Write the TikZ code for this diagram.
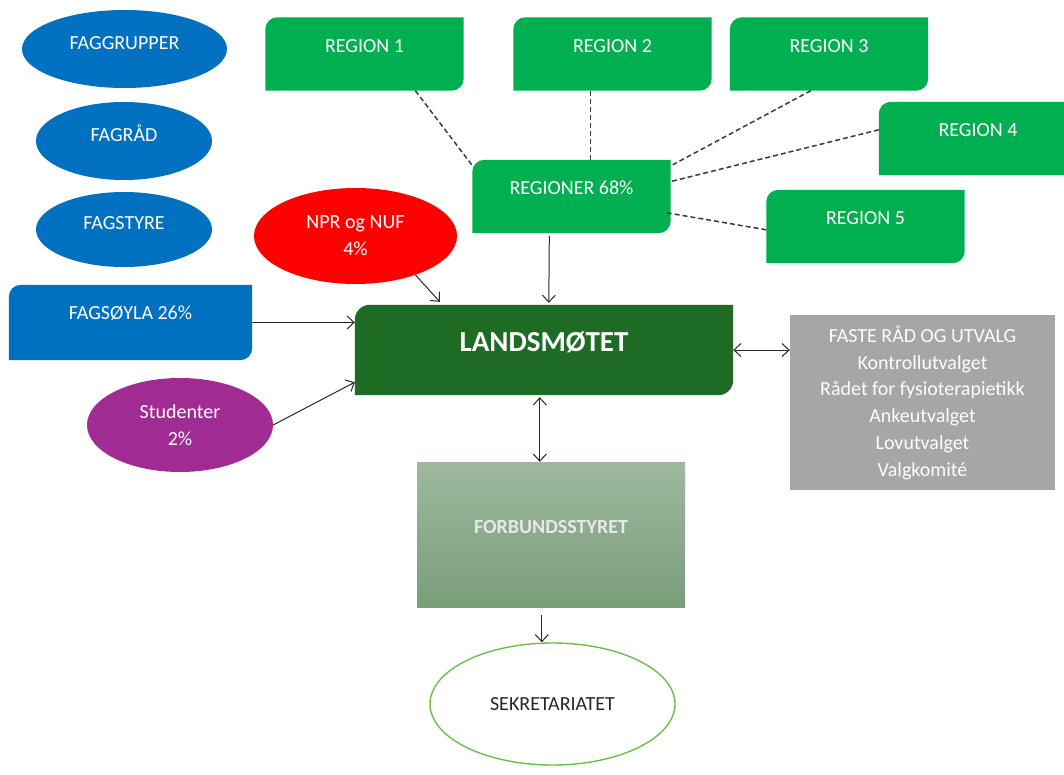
\documentclass[tikz,border=0pt]{standalone}
\usepackage{fontspec}
\setmainfont{Carlito}
\usetikzlibrary{arrows.meta,shapes.geometric,backgrounds,calc}
\definecolor{rgreen}{HTML}{00B050}
\definecolor{fblue}{HTML}{0070C0}
\definecolor{nred}{HTML}{FF0000}
\definecolor{lsgreen}{HTML}{1E6B24}
\definecolor{fgray}{HTML}{A6A6A6}
\definecolor{spurple}{HTML}{A02C93}
\definecolor{fbtop}{HTML}{9EB99E}
\definecolor{fbbot}{HTML}{7A9D7A}
\definecolor{skgreen}{HTML}{6CBF4A}
\definecolor{dashc}{HTML}{3A3A3A}
\definecolor{arc}{HTML}{262626}
\newcommand\rdfill[3]{%
  \fill[#2] ([xshift=#3]#1.north west) -- (#1.north east) -- ([yshift=#3]#1.south east)
    arc[start angle=0,end angle=-90,radius=#3] -- (#1.south west) -- ([yshift=-#3]#1.north west)
    arc[start angle=180,end angle=90,radius=#3] -- cycle;}
\begin{document}
\begin{tikzpicture}[x=1pt,y=-1pt,
  txt/.style={text=white,font=\fontsize{20}{26.8}\selectfont,inner sep=0pt},
  regbox/.style={txt,rectangle,minimum width=198pt,minimum height=73pt,text height=35pt,text depth=38pt},
  fagell/.style={txt,ellipse,fill=fblue,text height=14pt,text depth=13pt},
  twoell/.style={txt,ellipse,align=center},
  dl/.style={dashc,line width=1.5pt,dash pattern=on 5pt off 3pt},
  ar/.style={arc,line width=1pt,-{Straight Barb[length=7pt,width=13pt]}},
  arr/.style={arc,line width=1pt,{Straight Barb[length=7pt,width=13pt]}-{Straight Barb[length=7pt,width=13pt]}}]
\useasboundingbox (0,0) rectangle (1064,775);
% left blue ellipses
\node[fagell,minimum width=205pt,minimum height=78pt] (fg1) at (124.5,49) {FAGGRUPPER};
\node[fagell,minimum width=176pt,minimum height=78pt] (fg2) at (124,141) {FAGRÅD};
\node[fagell,minimum width=176pt,minimum height=75pt] (fg3) at (124,229.5) {FAGSTYRE};
% boxes
\node[txt,rectangle,minimum width=243pt,minimum height=75pt,text height=34.5pt,text depth=40.5pt] (fs) at (130.5,322.5) {FAGSØYLA 26\%};
\node[regbox] (r1) at (364.5,54) {REGION 1};
\node[regbox] (r2) at (612.5,54) {REGION 2};
\node[regbox] (r3) at (829,54) {REGION 3};
\node[regbox] (r4) at (978,138.5) {REGION 4};
\node[regbox] (r5) at (865.5,226.5) {REGION 5};
\node[regbox] (rg) at (571.5,196.5) {REGIONER 68\%};
\node[twoell,fill=nred,minimum width=203pt,minimum height=96pt] (npr) at (355.5,236) {NPR og NUF\\4\%};
\node[txt,rectangle,minimum width=378pt,minimum height=90pt,text height=46.3pt,text depth=43.7pt,font=\fontsize{29}{34}\selectfont\bfseries] (ls) at (544,350) {LANDSMØTET};
\node[txt,rectangle,fill=fgray,align=center,minimum width=265pt,minimum height=175pt] (fa) at (922.5,402.5)
  {FASTE RÅD OG UTVALG\\Kontrollutvalget\\Rådet for fysioterapietikk\\Ankeutvalget\\Lovutvalget\\Valgkomité};
\node[twoell,fill=spurple,minimum width=186pt,minimum height=94pt] (st) at (180,425) {Studenter\\2\%};
\node[txt,rectangle,top color=fbtop,bottom color=fbbot,text=white!91!black,font=\fontsize{20}{24}\selectfont\bfseries,minimum width=268pt,minimum height=145pt,text height=71.5pt,text depth=73.5pt] (fb) at (551,534.5) {FORBUNDSSTYRET};
\node[txt,ellipse,draw=skgreen,line width=1.4pt,text=black!85,minimum width=245pt,minimum height=122pt] (sk) at (552.5,704) {SEKRETARIATET};
% diagonal-rounded fills
\begin{scope}[on background layer]
\rdfill{fs}{fblue}{12pt}
\rdfill{r1}{rgreen}{12pt}
\rdfill{r2}{rgreen}{12pt}
\rdfill{r3}{rgreen}{12pt}
\rdfill{r4}{rgreen}{12pt}
\rdfill{r5}{rgreen}{12pt}
\rdfill{rg}{rgreen}{12pt}
\rdfill{ls}{lsgreen}{15pt}
\end{scope}
% dashed connections
\draw[dl] ($(r1.south west)+(150,0)$) -- ($(rg.north west)+(1,7)$);
\draw[dl] ($(r2.south west)+(77,0)$) -- ($(rg.north west)+(118,0)$);
\draw[dl] ($(r3.south west)+(81,0)$) -- ($(rg.north east)+(2,5)$);
\draw[dl] ($(r4.north west)+(0,28)$) -- ($(rg.north east)+(-1,22)$);
\draw[dl] ($(r5.north west)+(0,40)$) -- ($(rg.north east)+(-4,53)$);
% arrows
\draw[ar] ($(rg.south west)+(77,3)$) -- ($(ls.north west)+(194,-2)$);
\draw[ar] (npr.-33) -- ($(ls.north west)+(85,-3)$);
\draw[ar] (fs.east) -- (fs.east -| ls.west);
\draw[ar] (st.east) -- ($(ls.south west)+(0,-13)$);
\draw[arr] (ls.east) -- (ls.east -| fa.west);
\draw[arr] ($(ls.south west)+(185,2)$) -- ($(fb.north west)+(123,0)$);
\draw[ar] ($(fb.south west)+(125,8)$) coordinate (fbo) -- (fbo |- sk.north);
\end{tikzpicture}
\end{document}
